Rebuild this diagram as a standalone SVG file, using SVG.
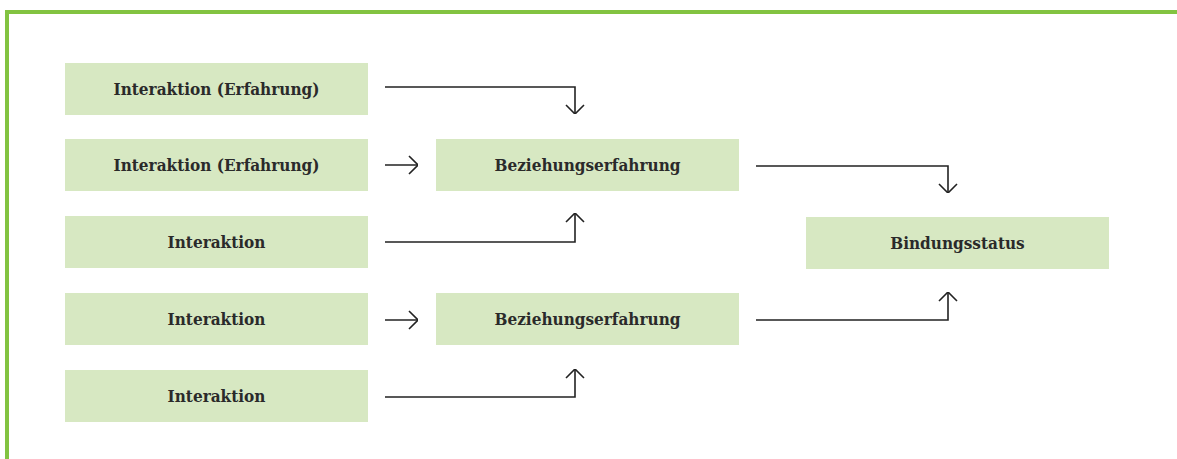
<svg xmlns="http://www.w3.org/2000/svg" width="1177" height="459" viewBox="0 0 1177 459">
<defs>
<style>
.box{fill:#d7e8c2}
.lbl{font-family:"DejaVu Serif Condensed","DejaVu Serif",serif;font-weight:bold;font-size:17px;fill:#2a2a2a;text-anchor:middle;dominant-baseline:central}
.con{fill:none;stroke:#222;stroke-width:1.6}
</style>
<marker id="ah" viewBox="0 0 10 20" refX="10" refY="10" markerWidth="10" markerHeight="20" markerUnits="userSpaceOnUse" orient="auto">
<path d="M1,1 L10,10 L1,19" fill="none" stroke="#222" stroke-width="1.6"/>
</marker>
</defs>
<rect width="1177" height="459" fill="#fff"/>
<path d="M7,459 V12 H1177" fill="none" stroke="#82c341" stroke-width="4"/>
<g id="n1"><rect class="box" x="65" y="63" width="303" height="52"/><text class="lbl" x="216.5" y="89">Interaktion (Erfahrung)</text></g>
<g id="n2"><rect class="box" x="65" y="139" width="303" height="52"/><text class="lbl" x="216.5" y="165">Interaktion (Erfahrung)</text></g>
<g id="n3"><rect class="box" x="65" y="216" width="303" height="52"/><text class="lbl" x="216.5" y="242">Interaktion</text></g>
<g id="n4"><rect class="box" x="65" y="293" width="303" height="52"/><text class="lbl" x="216.5" y="319">Interaktion</text></g>
<g id="n5"><rect class="box" x="65" y="370" width="303" height="52"/><text class="lbl" x="216.5" y="396">Interaktion</text></g>
<g id="m1"><rect class="box" x="436" y="139" width="303" height="52"/><text class="lbl" x="587.5" y="165">Beziehungserfahrung</text></g>
<g id="m2"><rect class="box" x="436" y="293" width="303" height="52"/><text class="lbl" x="587.5" y="319">Beziehungserfahrung</text></g>
<g id="r1"><rect class="box" x="806" y="217" width="303" height="52"/><text class="lbl" x="957.5" y="243">Bindungsstatus</text></g>
<g id="connectors">
<path class="con" marker-end="url(#ah)" d="M385,87 H575 V114"/>
<path class="con" marker-end="url(#ah)" d="M385,165 H418"/>
<path class="con" marker-end="url(#ah)" d="M385,242 H575 V213"/>
<path class="con" marker-end="url(#ah)" d="M385,320 H418"/>
<path class="con" marker-end="url(#ah)" d="M385,397 H575 V369"/>
<path class="con" marker-end="url(#ah)" d="M756,166 H948 V193"/>
<path class="con" marker-end="url(#ah)" d="M756,320 H948 V292"/>
</g>
</svg>
